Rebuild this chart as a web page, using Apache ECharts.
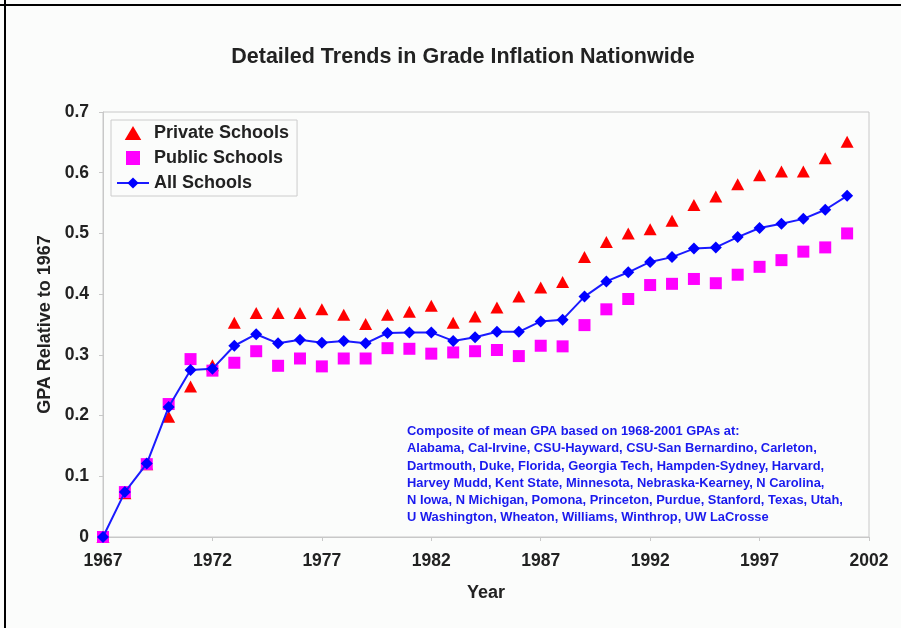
<!DOCTYPE html>
<html>
<head>
<meta charset="utf-8">
<script src="https://cdn.jsdelivr.net/npm/echarts@6/dist/echarts.min.js"></script>
<style>
html,body{margin:0;padding:0;background:#fbfcfb;}
#chart{width:901px;height:628px;}
</style>
</head>
<body>
<div id="chart"></div>
<script>
var years = ['1967','1968','1969','1970','1971','1972','1973','1974','1975','1976','1977','1978','1979','1980','1981','1982','1983','1984','1985','1986','1987','1988','1989','1990','1991','1992','1993','1994','1995','1996','1997','1998','1999','2000','2001','2002'];
var privateSchools = [0,0.072,0.12,0.198,0.248,0.283,0.353,0.369,0.369,0.369,0.375,0.366,0.351,0.366,0.371,0.381,0.353,0.363,0.378,0.396,0.411,0.42,0.461,0.486,0.50,0.507,0.521,0.547,0.561,0.581,0.596,0.602,0.602,0.624,0.651];
var publicSchools = [0,0.074,0.12,0.219,0.293,0.274,0.287,0.306,0.282,0.294,0.281,0.294,0.294,0.311,0.31,0.302,0.304,0.306,0.308,0.298,0.315,0.314,0.349,0.375,0.392,0.415,0.417,0.425,0.418,0.432,0.445,0.456,0.47,0.477,0.50];
var allSchools = [0,0.074,0.121,0.214,0.275,0.277,0.315,0.334,0.319,0.325,0.32,0.323,0.319,0.336,0.337,0.337,0.323,0.329,0.338,0.338,0.355,0.358,0.396,0.421,0.436,0.453,0.461,0.475,0.477,0.494,0.509,0.516,0.524,0.539,0.562];
var noteLines = [
 'Composite of mean GPA based on 1968-2001 GPAs at:',
 'Alabama, Cal-Irvine, CSU-Hayward, CSU-San Bernardino, Carleton,',
 'Dartmouth, Duke, Florida, Georgia Tech, Hampden-Sydney, Harvard,',
 'Harvey Mudd, Kent State, Minnesota, Nebraska-Kearney, N Carolina,',
 'N Iowa, N Michigan, Pomona, Princeton, Purdue, Stanford, Texas, Utah,',
 'U Washington, Wheaton, Williams, Winthrop, UW LaCrosse'
];

var chart = echarts.init(document.getElementById('chart'));
var font = 'Liberation Sans, Arial, sans-serif';
var txt = '#222222';
chart.setOption({
  backgroundColor: '#fbfcfb',
  animation: false,
  title: {
    text: 'Detailed Trends in Grade Inflation Nationwide',
    left: 458, top: 41, textAlign: 'center',
    textStyle: {fontFamily: font, fontSize: 21.5, fontWeight: 'bold', color: txt}
  },
  grid: {left: 103, top: 112, right: 32, bottom: 91, show: true, borderColor: '#c8c8c8', borderWidth: 1, backgroundColor: 'transparent'},
  legend: {
    orient: 'vertical', left: 111, top: 120,
    padding: [4, 8, 4, 5], itemGap: 7, itemWidth: 32, itemHeight: 14,
    borderColor: '#cccccc', borderWidth: 1, symbolKeepAspect: true,
    textStyle: {fontFamily: font, fontSize: 18, fontWeight: 'bold', color: txt},
    data: [
      {name: 'Private Schools', icon: 'path://M0,11L6.5,0L13,11Z'},
      {name: 'Public Schools', icon: 'path://M0,0L12,0L12,12L0,12Z'},
      {name: 'All Schools'}
    ]
  },
  xAxis: {
    type: 'category', data: years, boundaryGap: false,
    name: 'Year', nameLocation: 'middle', nameGap: 47,
    nameTextStyle: {fontFamily: font, fontSize: 18, fontWeight: 'bold', color: txt},
    axisLine: {lineStyle: {color: '#c8c8c8'}},
    axisTick: {interval: 4, length: 4, lineStyle: {color: '#c8c8c8'}},
    axisLabel: {interval: 4, margin: 15, fontFamily: font, fontSize: 17.5, fontWeight: 'bold', color: txt},
    splitLine: {show: false}
  },
  yAxis: {
    type: 'value', min: 0, max: 0.7, interval: 0.1,
    name: 'GPA Relative to 1967', nameLocation: 'middle', nameGap: 47,
    nameTextStyle: {fontFamily: font, fontSize: 18, fontWeight: 'bold', color: txt},
    axisLine: {show: true, lineStyle: {color: '#c8c8c8'}},
    axisTick: {show: true, length: 4, lineStyle: {color: '#c8c8c8'}},
    axisLabel: {margin: 14, fontFamily: font, fontSize: 17.5, fontWeight: 'bold', color: txt,
      formatter: function (v) { return v === 0 ? '0' : v.toFixed(1); }},
    splitLine: {show: false}
  },
  series: [
    {name: 'Private Schools', type: 'scatter', data: privateSchools, symbol: 'triangle', symbolSize: [13, 12],
     itemStyle: {color: '#ff0000', opacity: 1}, z: 2},
    {name: 'Public Schools', type: 'scatter', data: publicSchools, symbol: 'rect', symbolSize: 12,
     itemStyle: {color: '#ff00ff', opacity: 1}, z: 3},
    {name: 'All Schools', type: 'line', data: allSchools, symbol: 'diamond', symbolSize: 12, showSymbol: true,
     lineStyle: {color: '#1a1aff', width: 2}, itemStyle: {color: '#0000ff'}, z: 4}
  ],
  graphic: [
    {type: 'line', shape: {x1: 5, y1: 0, x2: 5, y2: 628}, style: {stroke: '#000', lineWidth: 2}},
    {type: 'line', shape: {x1: 0, y1: 5, x2: 901, y2: 5}, style: {stroke: '#000', lineWidth: 2}},
    {type: 'text', left: 407, top: 423,
     style: {text: noteLines.join('\n'), fill: '#1a1aee', font: 'bold 12.9px ' + font, lineHeight: 17.2}}
  ]
});
</script>
</body>
</html>
